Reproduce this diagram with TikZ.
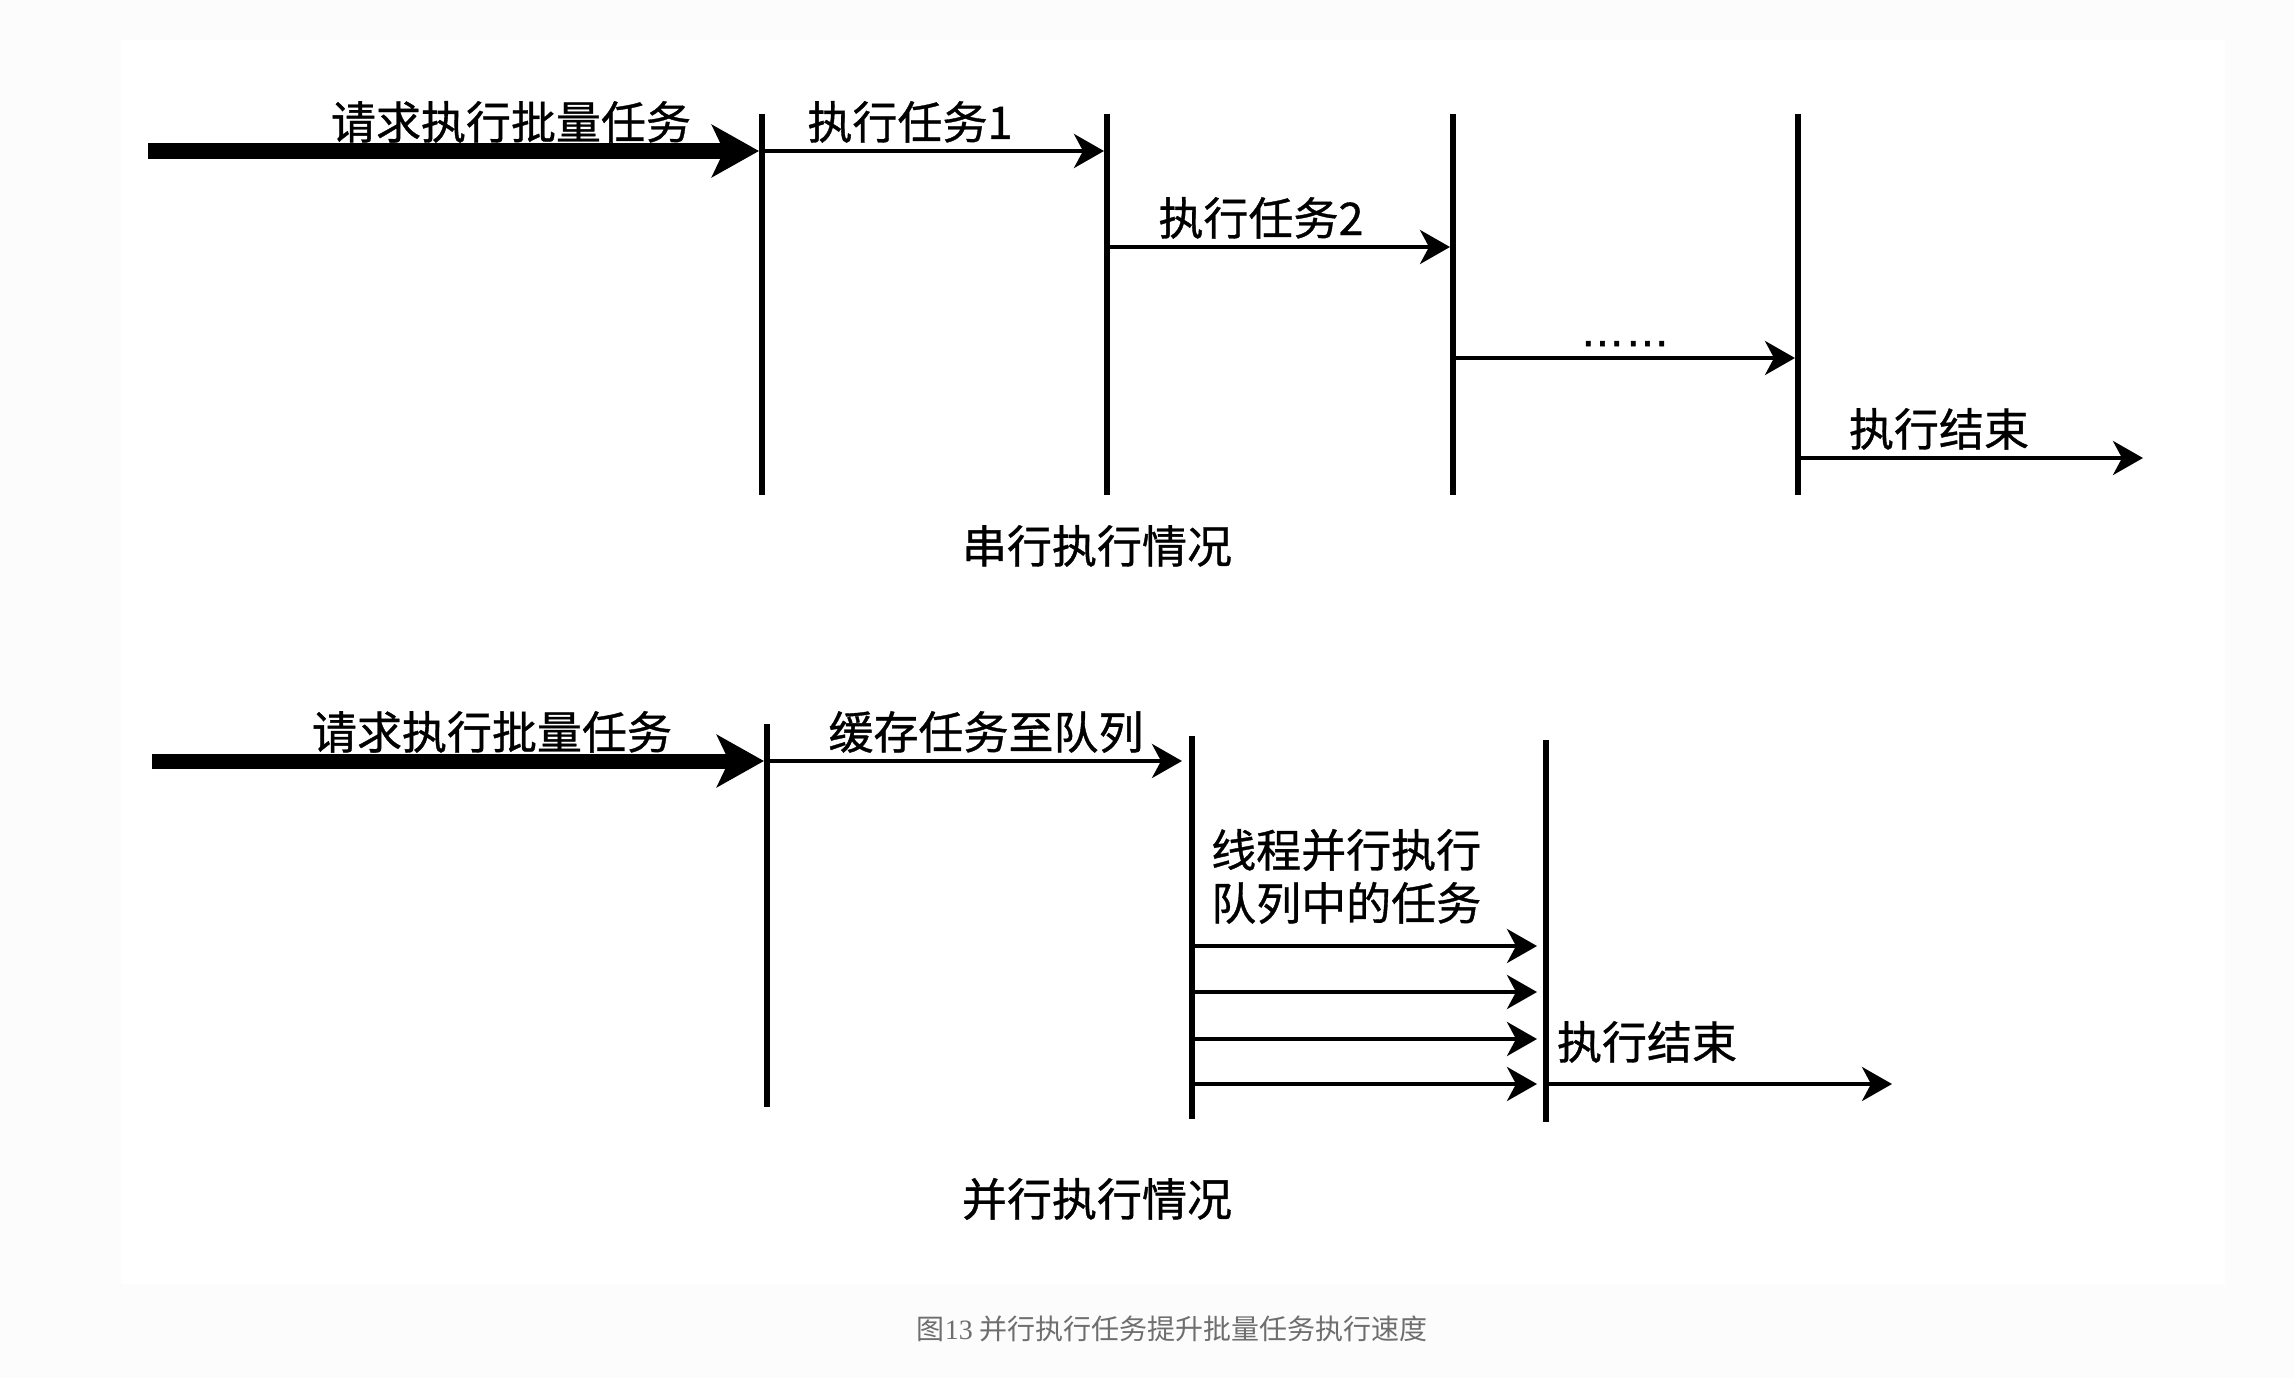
\documentclass[tikz,border=0pt]{standalone}
\usepackage{fontspec}
\setmainfont{Liberation Sans}
\newfontfamily\cjk{Noto Sans CJK SC}
\newfontfamily\cjkb[FakeBold=0.8]{Noto Sans CJK SC}
\newfontfamily\dotsfont[FakeBold=1.5]{Liberation Sans}
\newfontfamily\capserif{Liberation Serif}
\usetikzlibrary{arrows.meta}
\definecolor{outerbg}{HTML}{FCFCFC}
\definecolor{capgray}{HTML}{6E6E6E}
\tikzset{
  lbl/.style={anchor=base, inner sep=0pt, font=\cjkb\fontsize{45}{54}\selectfont},
  lblw/.style={lbl, anchor=base west},
  vline/.style={line width=6.5pt, line cap=butt},
  thinarr/.style={line width=4pt, -{Stealth[length=30pt,width=34pt,inset=9pt]}},
  thickarr/.style={line width=15pt, -{Stealth[length=47pt,width=52pt,inset=12pt]}},
  captxt/.style={anchor=base, inner sep=0pt, text=capgray, font=\cjk\fontsize{28}{32}\selectfont},
}
\begin{document}
\begin{tikzpicture}[x=1pt,y=-1pt]
\useasboundingbox (0,0) rectangle (2294,1378);
\fill[outerbg] (0,0) rectangle (2294,1378);
\fill[white] (121,40) rectangle (2225,1284);

% ---------- serial ----------
\coordinate (v1t) at (762,114);  \coordinate (v1b) at (762,495);
\coordinate (v2t) at (1107,114); \coordinate (v2b) at (1107,495);
\coordinate (v3t) at (1453,114); \coordinate (v3b) at (1453,495);
\coordinate (v4t) at (1798,114); \coordinate (v4b) at (1798,495);
\draw[vline] (v1t) -- (v1b);
\draw[vline] (v2t) -- (v2b);
\draw[vline] (v3t) -- (v3b);
\draw[vline] (v4t) -- (v4b);

\coordinate (sa0) at (148,151);  \coordinate (sa1) at (759,151);
\coordinate (sb0) at (762,151);  \coordinate (sb1) at (1104,151);
\coordinate (sc0) at (1107,247); \coordinate (sc1) at (1450,247);
\coordinate (sd0) at (1453,358); \coordinate (sd1) at (1795,358);
\coordinate (se0) at (1798,458); \coordinate (se1) at (2143,458);
\draw[thickarr] (sa0) -- (sa1);
\draw[thinarr] (sb0) -- (sb1);
\draw[thinarr] (sc0) -- (sc1);
\draw[thinarr] (sd0) -- (sd1);
\draw[thinarr] (se0) -- (se1);

\node[lbl] (ls1) at (511,139) {请求执行批量任务};
\node[lbl] (ls2) at (910,139) {执行任务1};
\node[lbl] (ls3) at (1261,235) {执行任务2};
\node[anchor=base, inner sep=0pt, font=\dotsfont\fontsize{45}{54}\selectfont] (ls4) at (1625,346) {……};
\node[lbl] (ls5) at (1939,446) {执行结束};
\node[lbl] (ls6) at (1097,563) {串行执行情况};

% ---------- parallel ----------
\coordinate (w1t) at (767,724);  \coordinate (w1b) at (767,1107);
\coordinate (w2t) at (1192,736); \coordinate (w2b) at (1192,1119);
\coordinate (w3t) at (1546,740); \coordinate (w3b) at (1546,1122);
\draw[vline] (w1t) -- (w1b);
\draw[vline] (w2t) -- (w2b);
\draw[vline] (w3t) -- (w3b);

\coordinate (pa0) at (152,761);  \coordinate (pa1) at (764,761);
\coordinate (pb0) at (767,761);  \coordinate (pb1) at (1182,761);
\coordinate (pc0) at (1192,946); \coordinate (pc1) at (1537,946);
\coordinate (pd0) at (1192,992); \coordinate (pd1) at (1537,992);
\coordinate (pe0) at (1192,1039);\coordinate (pe1) at (1537,1039);
\coordinate (pf0) at (1192,1084);\coordinate (pf1) at (1537,1084);
\coordinate (pg0) at (1546,1084);\coordinate (pg1) at (1892,1084);
\draw[thickarr] (pa0) -- (pa1);
\draw[thinarr] (pb0) -- (pb1);
\draw[thinarr] (pc0) -- (pc1);
\draw[thinarr] (pd0) -- (pd1);
\draw[thinarr] (pe0) -- (pe1);
\draw[thinarr] (pf0) -- (pf1);
\draw[thinarr] (pg0) -- (pg1);

\node[lbl] (lp1) at (492,749) {请求执行批量任务};
\node[lbl] (lp2) at (986,749) {缓存任务至队列};
\node[lblw] (lp3) at (1211,867) {线程并行执行};
\node[lblw] (lp4) at (1211,920) {队列中的任务};
\node[lbl] (lp5) at (1647,1059) {执行结束};
\node[lbl] (lp6) at (1097,1216) {并行执行情况};

% ---------- caption ----------
\node[captxt] (cap) at (1172,1339) {图{\capserif 13} 并行执行任务提升批量任务执行速度};
\end{tikzpicture}
\end{document}
